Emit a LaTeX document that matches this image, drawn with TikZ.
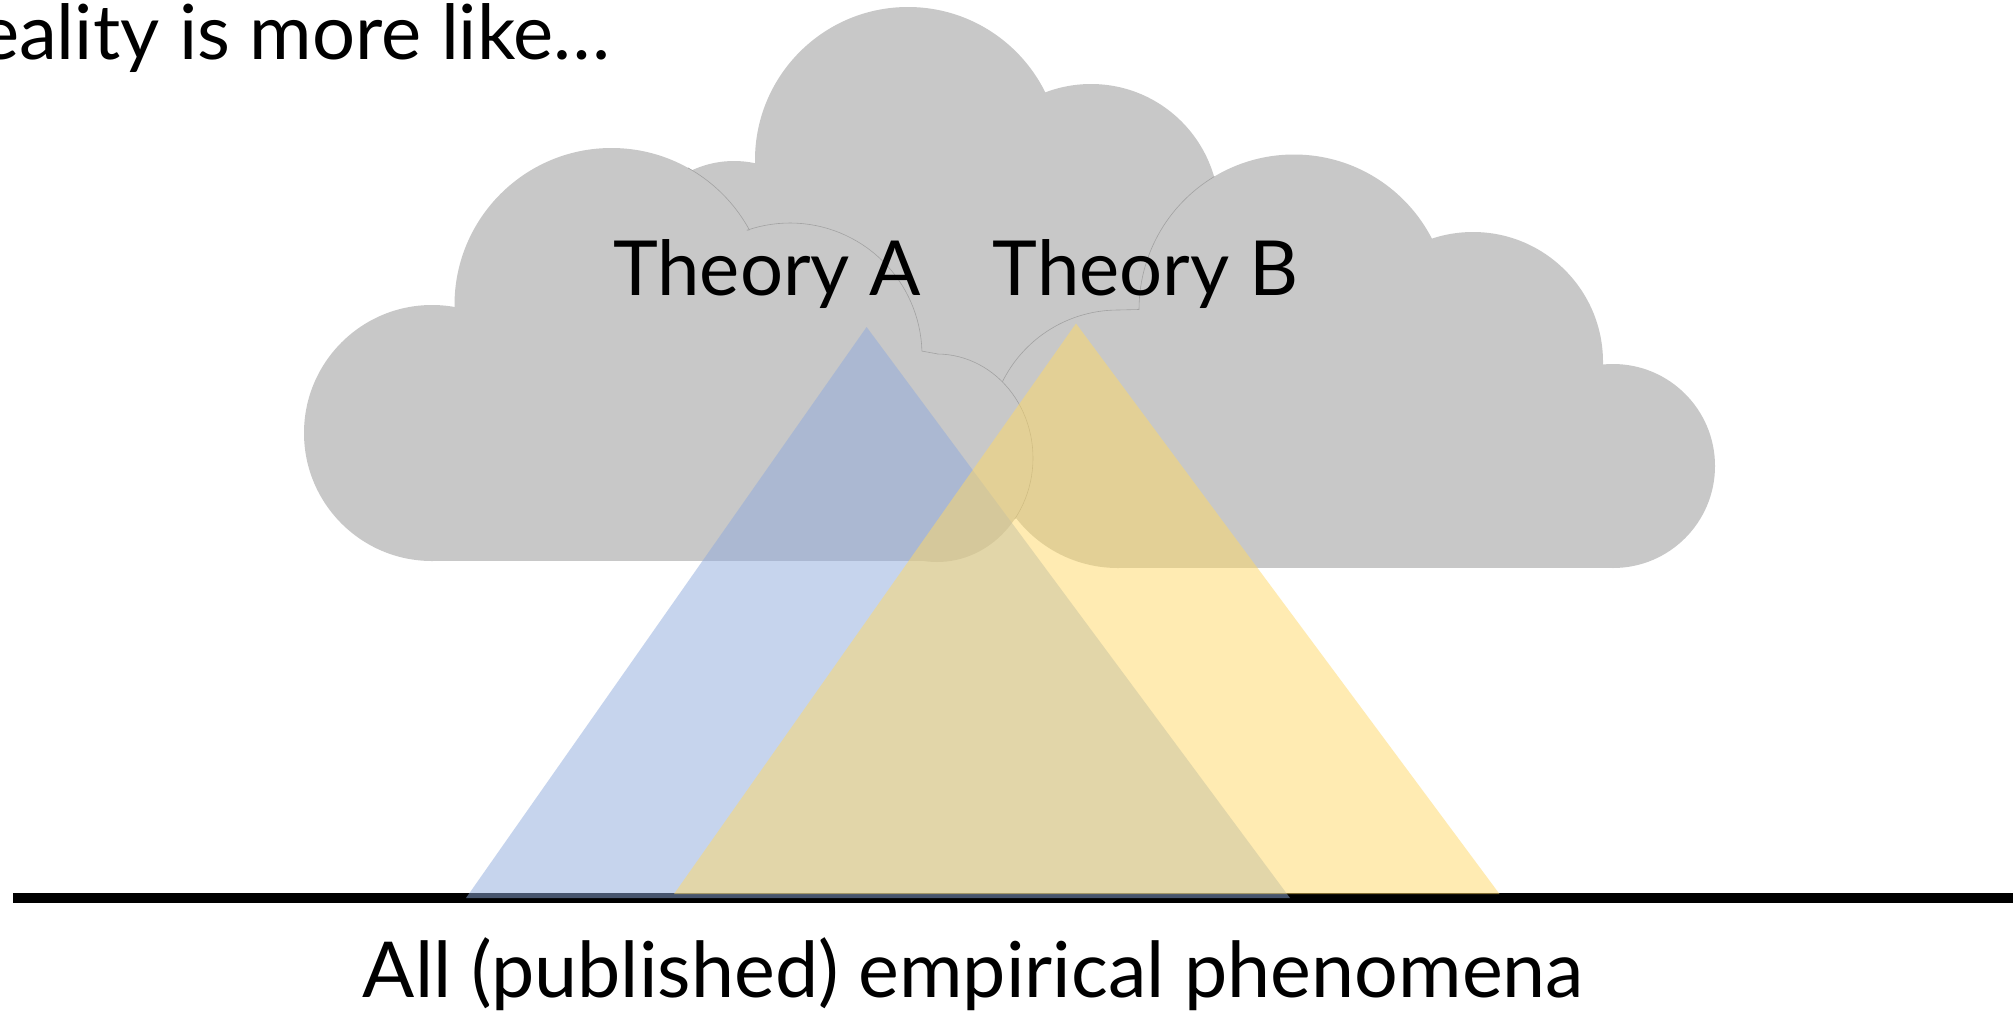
\documentclass[tikz,border=0pt]{standalone}
\usepackage{fontspec}
\setmainfont{Lato}
\definecolor{cloudgray}{HTML}{C8C8C8}
\definecolor{seamgray}{HTML}{A2A2A2}
\definecolor{blueA}{HTML}{8FAADC}
\definecolor{goldB}{HTML}{FFD966}
\tikzset{
  cloudfill/.style={fill=cloudgray, draw=none},
  seam/.style={draw=seamgray, line width=0.3pt},
  txt/.style={inner sep=0pt, font=\fontsize{38}{40}\selectfont},
  tri/.style={fill opacity=0.5, draw=none},
}
\begin{document}
\begin{tikzpicture}[x=0.5pt,y=-0.5pt]
\useasboundingbox (0,0) rectangle (2013,1018);
\fill[white] (0,0) rectangle (2013,1018);
\clip (0,0) rectangle (2013,1018);
% --- back cloud (middle)
\fill[cloudfill] (734,261) circle[radius=50pt];
\fill[cloudfill] (908,160) circle[radius=76.5pt];
\fill[cloudfill] (1091,212) circle[radius=64pt];
\fill[cloudfill] (700,250) rectangle (1150,400);
% --- right cloud
\fill[cloudfill] (1118,439) circle[radius=64.5pt];
\fill[cloudfill] (1294,309.5) circle[radius=77.5pt];
\fill[cloudfill] (1473,362) circle[radius=65pt];
\fill[cloudfill] (1613,466) circle[radius=51pt];
\fill[cloudfill] (1118,400) rectangle (1613,568);
\draw[seam] plot[domain=-120.9:-180,samples=30] ({1294+155*cos(\x)},{309.5+155*sin(\x)})
  -- (1118,310)
  -- plot[domain=-90:-154.8,samples=30] ({1118+129*cos(\x)},{439+129*sin(\x)});
% --- left cloud
\fill[cloudfill] (432,433) circle[radius=64pt];
\fill[cloudfill] (611.5,305) circle[radius=78.5pt];
\fill[cloudfill] (790,355) circle[radius=66pt];
\fill[cloudfill] (937,458) ellipse[x radius=48pt, y radius=52pt];
\fill[cloudfill] (432,360) rectangle (938,561);
\draw[seam] plot[domain=-60.8:-28.6,samples=20] ({611.5+157*cos(\x)},{305+157*sin(\x)})
  -- plot[domain=-109.1:-1.7,samples=40] ({790+132*cos(\x)},{355+132*sin(\x)})
  -- (938,354)
  -- plot[domain=-90:36,samples=40] ({937+96*cos(\x)},{458+104*sin(\x)});
% --- ground line
\coordinate (g0) at (13,898);
\coordinate (g1) at (2020,898);
\draw[line width=5pt] (g0) -- (g1);
% --- theories
\fill[tri, blueA] (866.6,327) -- (466,898) -- (1290,898) -- cycle;
\fill[tri, goldB] (1076,323.5) -- (674,894) -- (1499.5,894) -- cycle;
% --- texts
\node[txt, anchor=base east] (intro) at (611,59) {Reality is more like…};
\node[txt, anchor=base] (thA) at (767,295) {Theory A};
\node[txt, anchor=base] (thB) at (1145.5,295) {Theory B};
\node[txt, anchor=base, font=\fontsize{38.6}{40}\selectfont] (phen) at (973.5,997) {All (published) empirical phenomena};
\end{tikzpicture}
\end{document}
